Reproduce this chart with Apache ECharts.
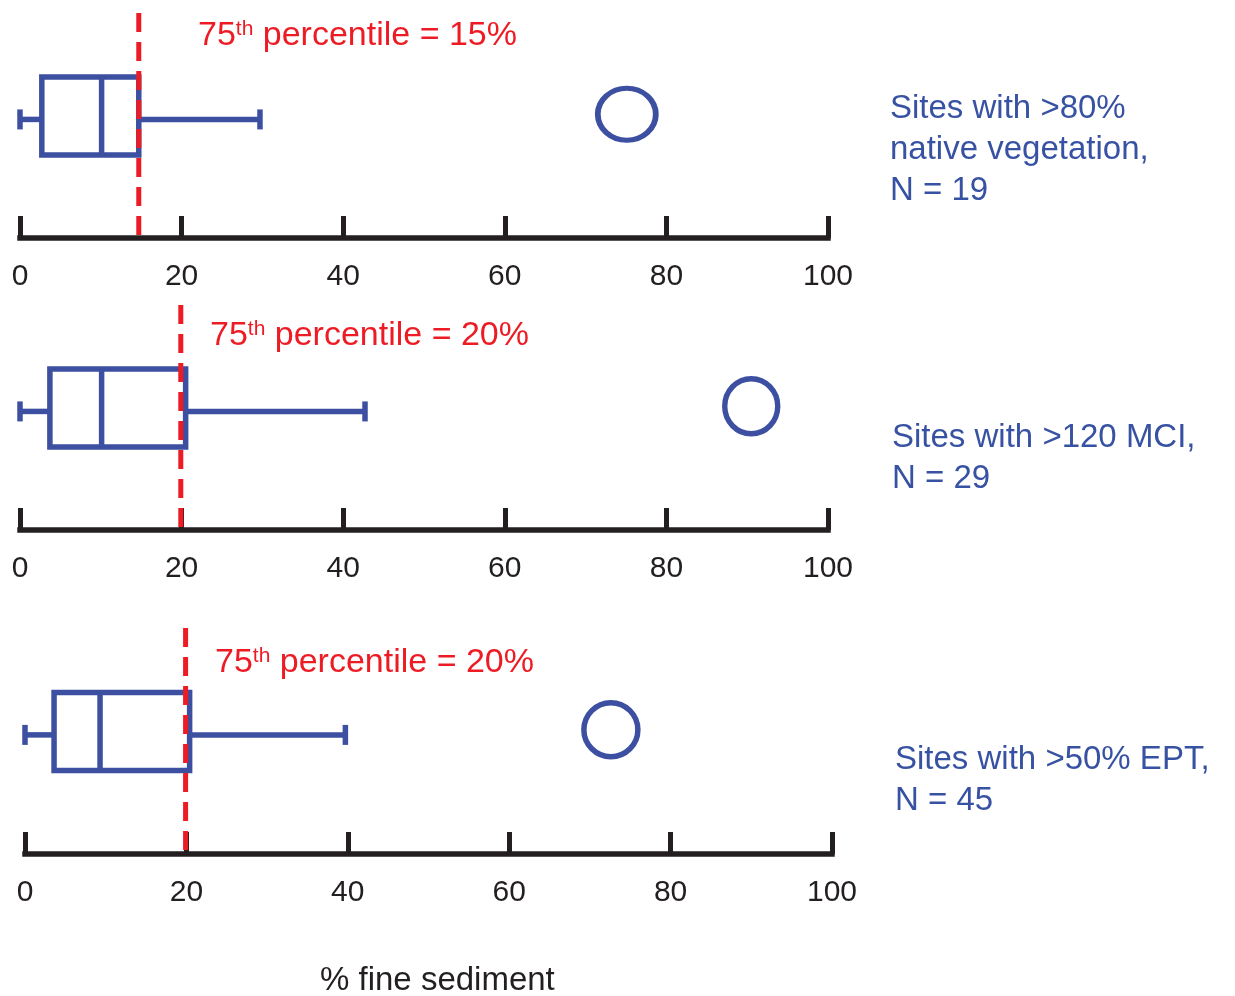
<!DOCTYPE html>
<html>
<head>
<meta charset="utf-8">
<script src="https://cdn.jsdelivr.net/npm/echarts@6/dist/echarts.min.js"></script>
<style>
  html, body { margin: 0; padding: 0; background: #ffffff; }
  #chart { width: 1235px; height: 996px; }
</style>
</head>
<body>
<div id="chart"></div>
<script>
// ---- data ----
const groupLines = [
  ['Sites with >80%', 'native vegetation,', 'N = 19'],
  ['Sites with >120 MCI,', 'N = 29'],
  ['Sites with >50% EPT,', 'N = 45']
];
const whiskerLow  = [0, 0, 0];
const q1          = [2.7, 3.7, 3.6];
const median      = [10.1, 10.1, 9.3];
const q3          = [14.7, 20.5, 20.4];
const whiskerHigh = [29.7, 42.7, 39.7];
const outliers    = [75.1, 90.5, 72.6];
const p75Line     = [14.7, 19.9, 19.9];
const p75Labels   = ['15%', '20%', '20%'];
const xTicks      = [0, 20, 40, 60, 80, 100];
const xTitle      = '% fine sediment';

// ---- styling ----
const BLUE = '#3c4fa1';
const BLUE_TXT = '#3852a3';
const RED = '#ed1c24';
const BLACK = '#231f20';
const FONT = '"Liberation Sans", Arial, Helvetica, sans-serif';
const BOX_Y = 0.542, WHISK_Y = 0.527, OUT_Y = 0.55;
const BOX_HALF = 39, CAP_HALF = 10, LW = 5.5;

const grids = [
  { left: 20, width: 808, top: 13,  height: 225 },
  { left: 20, width: 808, top: 305, height: 225 },
  { left: 25, width: 807, top: 628, height: 226 }
];
const outSizes = [[58, 52], [53, 55], [54, 54]];
const redLabelPos = [[198, 19], [210, 319], [215, 646]];
const groupLabelPos = [[890, 88], [892, 417], [895, 739]];

function renderBox(params, api) {
  const lo = api.value(0), a = api.value(1), m = api.value(2),
        b = api.value(3), hi = api.value(4), p = api.value(5);
  const X = v => api.coord([v, 0])[0];
  const yc = api.coord([0, BOX_Y])[1];
  const yw = api.coord([0, WHISK_Y])[1];
  const yTop = api.coord([0, 1])[1];
  const yBot = api.coord([0, 0])[1];
  const st = { stroke: BLUE, lineWidth: LW, fill: null };
  return {
    type: 'group',
    children: [
      { type: 'line', shape: { x1: X(lo), y1: yw, x2: X(a), y2: yw }, style: st },
      { type: 'line', shape: { x1: X(lo), y1: yw - CAP_HALF, x2: X(lo), y2: yw + CAP_HALF }, style: st },
      { type: 'line', shape: { x1: X(b), y1: yw, x2: X(hi), y2: yw }, style: st },
      { type: 'line', shape: { x1: X(hi), y1: yw - CAP_HALF, x2: X(hi), y2: yw + CAP_HALF }, style: st },
      { type: 'rect', shape: { x: X(a), y: yc - BOX_HALF, width: X(b) - X(a), height: 2 * BOX_HALF }, style: { stroke: BLUE, lineWidth: LW, fill: 'rgba(0,0,0,0)' } },
      { type: 'line', shape: { x1: X(m), y1: yc - BOX_HALF, x2: X(m), y2: yc + BOX_HALF }, style: st },
      { type: 'line', shape: { x1: X(p), y1: yTop, x2: X(p), y2: yBot + 2 },
        style: { stroke: RED, lineWidth: 5, lineDash: [19, 10], fill: null } }
    ]
  };
}

const xAxes = grids.map((g, i) => ({
  type: 'value', gridIndex: i,
  min: xTicks[0], max: xTicks[xTicks.length - 1], interval: xTicks[1] - xTicks[0],
  axisLine: { show: true, onZero: false, lineStyle: { color: BLACK, width: 5.5, cap: 'square' } },
  axisTick: { show: true, inside: true, length: 22, lineStyle: { color: BLACK, width: 5 } },
  axisLabel: { show: true, margin: 24, color: BLACK, fontSize: 30, fontFamily: FONT },
  splitLine: { show: false }
}));
const yAxes = grids.map((g, i) => ({
  type: 'value', gridIndex: i, min: 0, max: 1, show: false
}));

const series = [];
grids.forEach((g, i) => {
  series.push({
    type: 'custom', xAxisIndex: i, yAxisIndex: i, silent: true, clip: false,
    renderItem: renderBox,
    data: [[whiskerLow[i], q1[i], median[i], q3[i], whiskerHigh[i], p75Line[i]]],
    z: 3
  });
  series.push({
    type: 'scatter', xAxisIndex: i, yAxisIndex: i, silent: true,
    symbol: 'circle', symbolSize: outSizes[i],
    itemStyle: { color: 'rgba(0,0,0,0)', borderColor: BLUE, borderWidth: LW, opacity: 1 },
    data: [[outliers[i], OUT_Y]],
    z: 3
  });
});

const graphics = [];
grids.forEach((g, i) => {
  graphics.push({
    type: 'text', left: redLabelPos[i][0], top: redLabelPos[i][1], silent: true,
    style: {
      text: '{n|75}{s|th}{n| percentile = ' + p75Labels[i] + '}',
      fill: RED, font: '34px ' + FONT,
      rich: {
        n: { fontSize: 34, fontFamily: FONT, fill: RED, color: RED, lineHeight: 34, verticalAlign: 'bottom' },
        s: { fontSize: 21, fontFamily: FONT, fill: RED, color: RED, lineHeight: 21, verticalAlign: 'bottom', padding: [0, 0, 13, 0] }
      }
    }
  });
  graphics.push({
    type: 'text', left: groupLabelPos[i][0], top: groupLabelPos[i][1], silent: true,
    style: {
      text: groupLines[i].join('\n'),
      fill: BLUE_TXT, fontSize: 33, fontFamily: FONT, lineHeight: 41
    }
  });
});
graphics.push({
  type: 'text', left: 320, top: 964, silent: true,
  style: { text: xTitle, fill: BLACK, fontSize: 33, fontFamily: FONT }
});

const chart = echarts.init(document.getElementById('chart'), null, { renderer: 'canvas' });
chart.setOption({
  animation: false,
  backgroundColor: '#ffffff',
  grid: grids,
  xAxis: xAxes,
  yAxis: yAxes,
  series: series,
  graphic: graphics
});
</script>
</body>
</html>
